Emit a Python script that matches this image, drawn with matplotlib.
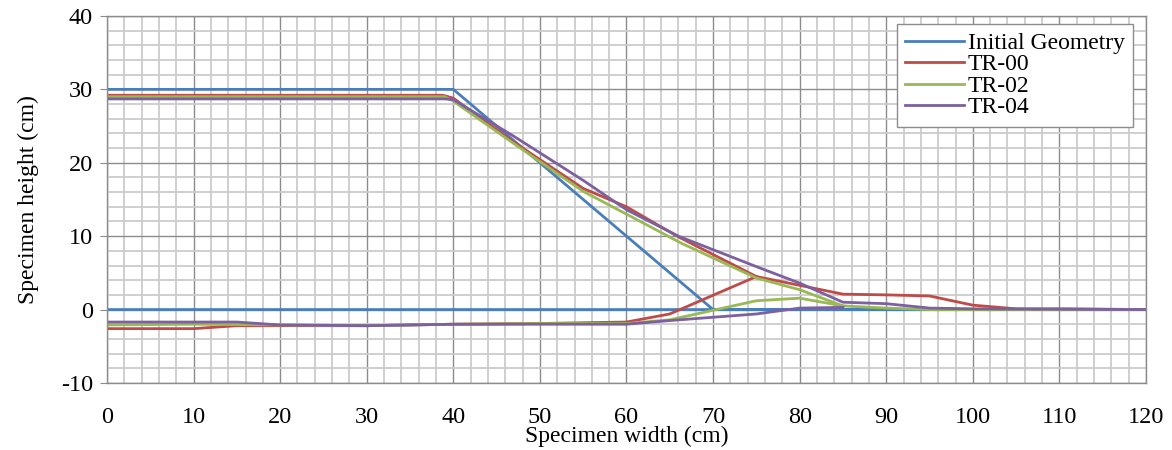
import numpy as np
import matplotlib
matplotlib.use("Agg")
import matplotlib.pyplot as plt
from matplotlib.ticker import MultipleLocator

plt.rcParams["font.family"] = ["Liberation Serif", "DejaVu Serif"]
plt.rcParams["axes.unicode_minus"] = False

# Initial geometry (trapezoid + base line)
init_x = [0, 40, 70, 120, 0]
init_y = [30, 30, 0, 0, 0]

# TR-00
tr00_top_x = [0, 38.8, 40, 47, 55, 60, 66, 75, 80, 85, 90, 95, 100, 105, 111, 120]
tr00_top_y = [29.2, 29.2, 28.8, 22.8, 16.5, 14.0, 9.9, 4.5, 3.3, 2.1, 2.0, 1.85, 0.6, 0.1, 0.1, 0]
tr00_bot_x = [0, 10, 15, 20, 30, 40, 50, 60, 65, 75]
tr00_bot_y = [-2.6, -2.6, -2.2, -2.2, -2.2, -2.0, -1.9, -1.7, -0.6, 4.5]

# TR-02
tr02_top_x = [0, 39, 40, 47, 55, 60, 66.4, 75, 80, 85, 90, 95, 120]
tr02_top_y = [29.0, 29.0, 28.4, 22.6, 16.1, 13.0, 9.0, 4.3, 2.7, 0.5, 0.2, 0, 0]
tr02_bot_x = [0, 10, 20, 30, 40, 50, 60, 65, 75, 80, 85]
tr02_bot_y = [-2.1, -2.0, -2.1, -2.2, -2.0, -1.9, -1.9, -1.4, 1.2, 1.55, 0.5]

# TR-04
tr04_top_x = [0, 39, 40, 47, 55, 60, 66, 75, 80, 85, 90, 95, 100, 120]
tr04_top_y = [28.7, 28.7, 28.6, 23.6, 17.6, 13.6, 10.0, 5.85, 3.6, 1.0, 0.8, 0.2, 0.1, 0]
tr04_bot_x = [0, 15, 20, 30, 40, 50, 60, 65, 75, 80, 85]
tr04_bot_y = [-1.7, -1.7, -2.1, -2.2, -2.0, -2.0, -2.0, -1.5, -0.6, 0.2, 0.3]

colors = {"init": "#4A7EBB", "tr00": "#BE4B48", "tr02": "#98B954", "tr04": "#7D60A0"}
lw = 2.0

fig = plt.figure(figsize=(11.72, 4.5), dpi=100)
ax = fig.add_axes([0.0913, 0.149, 0.8865, 0.8155])

ax.plot(init_x, init_y, color=colors["init"], lw=lw, label="Initial Geometry")
ax.plot(tr00_top_x, tr00_top_y, color=colors["tr00"], lw=lw, label="TR-00")
ax.plot(tr00_bot_x, tr00_bot_y, color=colors["tr00"], lw=lw)
ax.plot(tr02_top_x, tr02_top_y, color=colors["tr02"], lw=lw, label="TR-02")
ax.plot(tr02_bot_x, tr02_bot_y, color=colors["tr02"], lw=lw)
ax.plot(tr04_top_x, tr04_top_y, color=colors["tr04"], lw=lw, label="TR-04")
ax.plot(tr04_bot_x, tr04_bot_y, color=colors["tr04"], lw=lw)

ax.set_xlim(0, 120)
ax.set_ylim(-10, 40)
ax.xaxis.set_major_locator(MultipleLocator(10))
ax.yaxis.set_major_locator(MultipleLocator(10))
ax.xaxis.set_minor_locator(MultipleLocator(2))
ax.yaxis.set_minor_locator(MultipleLocator(2))
ax.grid(which="minor", color="#CCCCCC", lw=1.3)
ax.grid(which="major", color="#8C8C8C", lw=1.0)
ax.set_axisbelow(True)
for s in ax.spines.values():
    s.set_color("#8C8C8C")
    s.set_linewidth(1.0)

ax.tick_params(axis="x", which="both", length=0, pad=17, labelsize=17.5)
ax.tick_params(axis="y", which="major", length=5, color="#8C8C8C", pad=5, labelsize=17.5)
ax.tick_params(axis="y", which="minor", length=0)

ax.set_xlabel("Specimen width (cm)", fontsize=17, labelpad=-1)
ax.set_ylabel("Specimen height (cm)", fontsize=17, labelpad=16)

leg = ax.legend(loc="upper right", bbox_to_anchor=(0.9875, 0.978), fontsize=17,
                frameon=True, fancybox=False, framealpha=1, edgecolor="#8C8C8C",
                handlelength=2.5, handletextpad=0.15, labelspacing=0.0,
                borderpad=0.35, borderaxespad=0)
leg.get_frame().set_linewidth(1.0)

fig.savefig("out.png", dpi=100)
